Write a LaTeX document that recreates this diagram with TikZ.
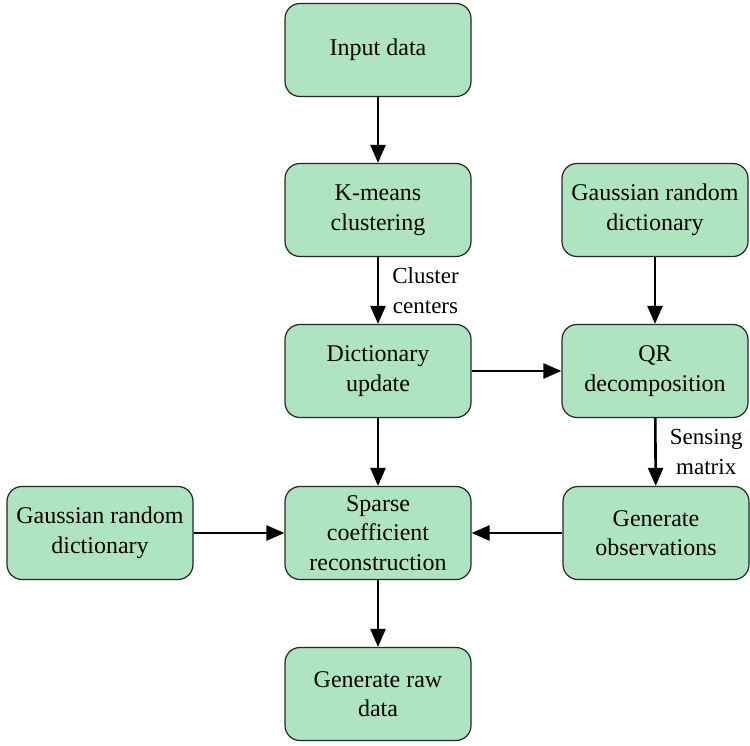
\documentclass[tikz,border=0pt]{standalone}
\usepackage{fontspec}
\setmainfont{Liberation Serif}
\usetikzlibrary{arrows.meta}
\definecolor{boxgreen}{RGB}{174,229,192}
\tikzset{
  box/.style={draw=black!85, line width=1.2pt, fill=boxgreen, rounded corners=15pt,
    minimum width=186pt, minimum height=93pt, align=center, inner sep=2pt,
    font=\fontsize{24}{29.5}\selectfont},
  arr/.style={line width=2.6pt, -{Triangle[length=18pt,width=15pt]}},
  lbl/.style={align=center, font=\fontsize{23}{29.5}\selectfont, inner sep=0pt}
}
\begin{document}
\begin{tikzpicture}[x=1pt,y=-1pt]
\useasboundingbox (0,0) rectangle (750,746);
\node[box] (input) at (378,50) {Input data};
\node[box] (kmeans) at (378,210) {K-means\\clustering};
\node[box] (dict) at (378,371) {Dictionary\\update};
\node[box] (sparse) at (378,533) {Sparse\\coefficient\\reconstruction};
\node[box] (raw) at (378,694) {Generate raw\\data};
\node[box] (gaussR) at (655,210) {Gaussian random\\dictionary};
\node[box] (qr) at (655,371) {QR\\decomposition};
\node[box] (obs) at (656,533) {Generate\\observations};
\node[box] (gaussL) at (100,533) {Gaussian random\\dictionary};
\draw[arr] (input) -- (kmeans);
\draw[arr] (kmeans) -- (dict) node[midway, right=13pt, lbl] (cc) {Cluster\\centers};
\draw[arr] (dict) -- (sparse);
\draw[arr] (sparse) -- (raw);
\draw[arr] (gaussR) -- (qr);
\draw[arr] (dict) -- (qr);
\draw[arr] (qr) -- (obs) node[midway, right=13pt, lbl] (sm) {Sensing\\matrix};
\draw[arr] (obs) -- (sparse);
\draw[arr] (gaussL) -- (sparse);
\end{tikzpicture}
\end{document}
